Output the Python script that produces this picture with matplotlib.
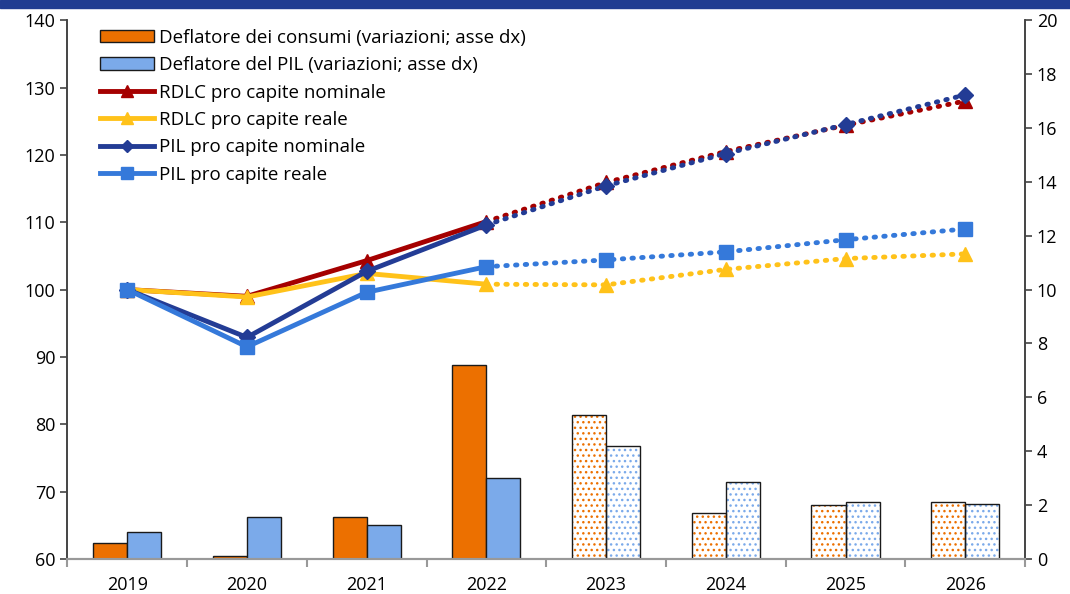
import numpy as np
import matplotlib.pyplot as plt
from matplotlib.patches import Rectangle, Patch
from matplotlib.lines import Line2D

plt.rcParams['font.family'] = ['Open Sans', 'DejaVu Sans']

years = ["2019", "2020", "2021", "2022", "2023", "2024", "2025", "2026"]
n_hist = 4  # 2019-2022 actual, then forecast

defl_consumi = [0.6, 0.1, 1.55, 7.2, 5.35, 1.7, 2.0, 2.1]
defl_pil = [1.0, 1.55, 1.25, 3.0, 4.2, 2.85, 2.1, 2.05]

rdlc_nominale = [100, 99.0, 104.3, 110.1, 115.9, 120.5, 124.4, 128.0]
rdlc_reale = [100, 98.9, 102.4, 100.8, 100.7, 103.0, 104.6, 105.3]
pil_nominale = [100, 92.9, 102.7, 109.6, 115.4, 120.2, 124.5, 128.9]
pil_reale = [100, 91.5, 99.6, 103.4, 104.4, 105.6, 107.4, 109.0]

c_orange = "#EC7000"
c_lblue = "#7BAAEA"
c_red = "#A50000"
c_yellow = "#FFC21A"
c_navy = "#233C95"
c_blue = "#3579DA"

fig = plt.figure(figsize=(10.7, 5.94), dpi=100)
ax = fig.add_axes([0.063, 0.059, 0.895, 0.907])
ax2 = ax.twinx()

# blue band on top
fig.patches.append(Rectangle((0, 0.986), 1, 0.014, transform=fig.transFigure,
                             color="#213D91", zorder=0))

x = np.arange(len(years))
w = 0.285

# bars on right axis
for i in range(len(years)):
    for val, off, col in [(defl_consumi[i], -w / 2, c_orange), (defl_pil[i], w / 2, c_lblue)]:
        if i < n_hist:
            ax2.bar(x[i] + off, val, w, color=col, edgecolor="#1a1a1a", linewidth=1.0, zorder=2)
        else:
            ax2.bar(x[i] + off, val, w, color="white", edgecolor=col, hatch="...",
                    linewidth=0, zorder=2)
            ax2.bar(x[i] + off, val, w, fill=False, edgecolor="#1a1a1a", linewidth=1.0, zorder=3)

# lines on left axis, in front of the bars
ax.set_zorder(ax2.get_zorder() + 1)
ax.patch.set_visible(False)

series = [
    (rdlc_nominale, c_red, "^", 10),
    (rdlc_reale, c_yellow, "^", 10),
    (pil_nominale, c_navy, "D", 8),
    (pil_reale, c_blue, "s", 10),
]
for vals, col, mk, ms in series:
    ax.plot(x[:n_hist], vals[:n_hist], color=col, lw=3.5, marker=mk, ms=ms,
            solid_capstyle="round", zorder=4)
    ax.plot(x[n_hist - 1:], vals[n_hist - 1:], color=col, lw=3.5, ls=(0, (0.3, 1.7)),
            dash_capstyle="round", zorder=4)
    ax.plot(x[n_hist:], vals[n_hist:], color=col, lw=0, marker=mk, ms=ms, zorder=5)

ax.set_xlim(-0.5, len(years) - 0.5)
ax.set_ylim(60, 140)
ax.set_yticks(range(60, 141, 10))
ax2.set_ylim(0, 20)
ax2.set_yticks(range(0, 21, 2))

ax.set_xticks(x)
ax.set_xticklabels(years)
ax.set_xticks(np.arange(-0.5, len(years), 1), minor=True)
ax.tick_params(axis="x", which="major", length=0, labelsize=13, pad=12)
ax.tick_params(axis="x", which="minor", length=6, color="#999999", width=1.5)
ax.tick_params(axis="y", labelsize=13, length=5, color="#444444", width=1.2)
ax2.tick_params(axis="y", labelsize=13, length=5, color="#444444", width=1.2)

for a in (ax, ax2):
    a.spines["top"].set_visible(False)
    a.spines["left"].set_color("#444444")
    a.spines["right"].set_color("#444444")
    a.spines["left"].set_linewidth(1.2)
    a.spines["right"].set_linewidth(1.2)
    a.spines["bottom"].set_color("#999999")
    a.spines["bottom"].set_linewidth(1.5)

handles = [
    Patch(facecolor=c_orange, edgecolor="#1a1a1a", label="Deflatore dei consumi (variazioni; asse dx)"),
    Patch(facecolor=c_lblue, edgecolor="#1a1a1a", label="Deflatore del PIL (variazioni; asse dx)"),
    Line2D([], [], color=c_red, lw=3.5, marker="^", ms=8, label="RDLC pro capite nominale"),
    Line2D([], [], color=c_yellow, lw=3.5, marker="^", ms=8, label="RDLC pro capite reale"),
    Line2D([], [], color=c_navy, lw=3.5, marker="D", ms=6, label="PIL pro capite nominale"),
    Line2D([], [], color=c_blue, lw=3.5, marker="s", ms=8, label="PIL pro capite reale"),
]
ax.legend(handles=handles, loc="upper left", bbox_to_anchor=(0.022, 1.005), frameon=False,
          fontsize=13.5, handlelength=2.9, handleheight=0.65, labelspacing=0.5,
          handletextpad=0.25, borderaxespad=0.2)

fig.savefig("out.png", dpi=100)
